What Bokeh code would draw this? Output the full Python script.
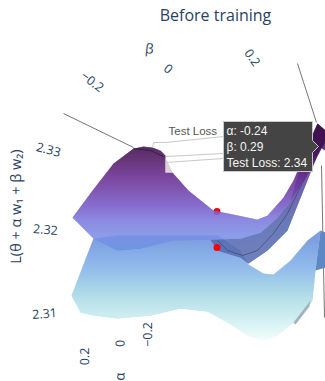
from bokeh.plotting import figure
from bokeh.models import Range1d
from bokeh.core.properties import value
from bokeh.embed import file_html
from bokeh.resources import INLINE

INK = "#2a3f5f"
TITLE = "Before training"
Z_TICKS = ["2.33", "2.32", "2.31"]
A_TICKS = ["\u22120.2", "0", "0.2"]
B_TICKS = ["\u22120.2", "0", "0.2"]
TOOLTIP_LINES = ["\u03b1: -0.24", "\u03b2: 0.29", "Test Loss: 2.34"]

# surface outlines (screen pixels)
upper_x = [143,152,160,165,165,172,188,213,233,257,267,283,293,307,317,325,325,320,305,290,277,260,240,210,173,140,117,93,72,92,113,133]
upper_y = [146,147,150,155,172,172,190,210,214,219,215,197,180,147,123,130,140,150,178,200,217,232,238,239,240,248,250,238,217,190,163,148]
upper_stop_y = [146,160,175,190,205,220,235,250]
upper_stop_c = ["#3d0f4c","#521a68","#662a8c","#7040a8","#7658c6","#7c7adc","#7c8ee4","#6a94e0"]

lower_x = [93,71,80,93,117,150,180,207,227,247,263,277,293,312,315,320,307,290,273,263,248,240,217,117]
lower_y = [238,295,312,315,318,315,308,311,322,335,340,335,322,300,270,230,240,260,274,273,264,250,235,235]
lower_stop_y = [238,255,270,285,300,315,328,340]
lower_stop_c = ["#6b90dc","#78a4e4","#84b4e8","#98cbe4","#aedde6","#c6eaee","#dcf5f5","#f0fcfb"]

strip_x = [210,217,240,248,267,287,303,320,325,325,317,305,290,277,260,240]
strip_y = [239,250,257,263,250,230,190,147,150,130,123,150,200,217,232,238]
strip_stop_y = [123,145,165,190,220,263]
strip_stop_c = ["#3d0f4c","#4a1a66","#5a3f9c","#5b4ea6","#5467ae","#5a70b4"]

fold_x = [320,325,325,315]
fold_y = [230,232,267,270]
fold_color = "#5d88c4"

crease_x = [217,227,242,257,273,287,303,317]
crease_y = [240,250,255,250,233,213,180,125]
peak_x = [133,150,163]
peak_y = [148,150,156]
grey_fold_x = [293,310,309,295]
grey_fold_y = [322,300,306,324]
notch_x = [165,172,165]
notch_y = [157,172,172]
axis_lines_x = [[63,133],[297,316],[321,324]]
axis_lines_y = [[113,147],[63,122],[165,317]]
leader_x = [[152,153,165,223],[165,223],[165,223]]
leader_y = [[147,142,142,136],[156,153],[162,158]]
dot_x = [216.5,216.5]
dot_y = [211,247]
tip_x = [223,312,312,318,312,312,223]
tip_y = [121,121,140,146,152,171,171]


def rgb(h):
    return [int(h[i:i+2], 16) for i in (1, 3, 5)]


def colour_at(y, ys, cs):
    if y <= ys[0]:
        return cs[0]
    for i in range(len(ys) - 1):
        if y <= ys[i + 1]:
            t = (y - ys[i]) / (ys[i + 1] - ys[i])
            a, b = rgb(cs[i]), rgb(cs[i + 1])
            return "#%02x%02x%02x" % tuple(round(a[k] + (b[k] - a[k]) * t) for k in range(3))
    return cs[-1]


def crossings(xs, ys, y):
    out = []
    n = len(xs)
    for i in range(n):
        x0, y0, x1, y1 = xs[i], ys[i], xs[(i + 1) % n], ys[(i + 1) % n]
        if (y0 <= y) != (y1 <= y):
            out.append(x0 + (x1 - x0) * (y - y0) / (y1 - y0))
    return sorted(out)


def shaded(p, xs, ys, stop_y, stop_c):
    px, py, c = [], [], []
    y = min(ys)
    while y < max(ys):
        a = crossings(xs, ys, y + 0.01)
        b = crossings(xs, ys, y + 0.99)
        col = colour_at(y + 0.5, stop_y, stop_c)
        if len(a) != len(b):
            a = b = crossings(xs, ys, y + 0.5)
        for i in range(0, len(a) - 1, 2):
            px.append([a[i], a[i + 1], b[i + 1], b[i]])
            py.append([y, y, y + 1.35, y + 1.35])
            c.append(col)
        y += 1
    p.patches(px, py, fill_color=c, line_color=None)


p = figure(width=325, height=381, x_range=Range1d(0, 325), y_range=Range1d(381, 0),
           output_backend="svg", toolbar_location=None, min_border=0)
p.xaxis.visible = False
p.yaxis.visible = False
p.grid.visible = False
p.outline_line_color = None

p.multi_line(axis_lines_x, axis_lines_y, line_color="#666666", line_width=0.9)

shaded(p, lower_x, lower_y, lower_stop_y, lower_stop_c)
p.patch(fold_x, fold_y, fill_color=fold_color, line_color=None)
p.patch(grey_fold_x, grey_fold_y, fill_color="#9fb4bc", line_color=None)
shaded(p, strip_x, strip_y, strip_stop_y, strip_stop_c)
p.line(crease_x, crease_y, line_color="#3d3d55", line_width=0.6)
p.scatter(dot_x, dot_y, size=7, fill_color="#ff0000", line_color=None)
shaded(p, upper_x, upper_y, upper_stop_y, upper_stop_c)
p.line(peak_x, peak_y, line_color="#2a1030", line_width=0.7)
p.patch(notch_x, notch_y, fill_color="#dcd0dc", line_color=None)

p.multi_line(leader_x, leader_y, line_color="#c8c8c8", line_width=1)


def label(x, y, s, size, angle=0.0, color=INK, font="Open Sans", align="center"):
    p.text([x], [y], text=[s], text_font=value(font), text_font_size=f"{size}px",
           text_color=color, angle=angle, text_align=align, text_baseline="middle")


label(215, 14, TITLE, 16)
label(149, 48, "\u03b2", 13.5, -0.1)
label(92, 81, B_TICKS[0], 12.5, -0.65)
label(168, 68, B_TICKS[1], 12.5, -0.7)
label(252, 57, B_TICKS[2], 12.5, -0.95)
label(48, 149, Z_TICKS[0], 12.5, -0.26)
label(45, 229, Z_TICKS[1], 12.5, -0.08)
label(44, 313, Z_TICKS[2], 12.5, 0.08)
label(147, 334, A_TICKS[0], 12.5, 1.57)
label(119.5, 343, A_TICKS[1], 12.5, 1.57)
label(84, 356, A_TICKS[2], 12.5, 1.57)
label(119, 376, "\u03b1", 13.5, 1.57)
label(15, 206, "L(\u03b8 + \u03b1 w\u2081 + \u03b2 w\u2082)", 14.5, 1.57)

p.patch(tip_x, tip_y, fill_color="#444444", line_color="#c8c8c8", line_width=1)
label(168, 130, "Test Loss", 11.5, color="#555555", font="Liberation Sans", align="left")
label(226, 130, TOOLTIP_LINES[0], 12, color="#f4f4f4", font="Liberation Sans", align="left")
label(226, 146, TOOLTIP_LINES[1], 12, color="#f4f4f4", font="Liberation Sans", align="left")
label(226, 162, TOOLTIP_LINES[2], 12, color="#f4f4f4", font="Liberation Sans", align="left")

open("out.html", "w").write(file_html(p, INLINE))
